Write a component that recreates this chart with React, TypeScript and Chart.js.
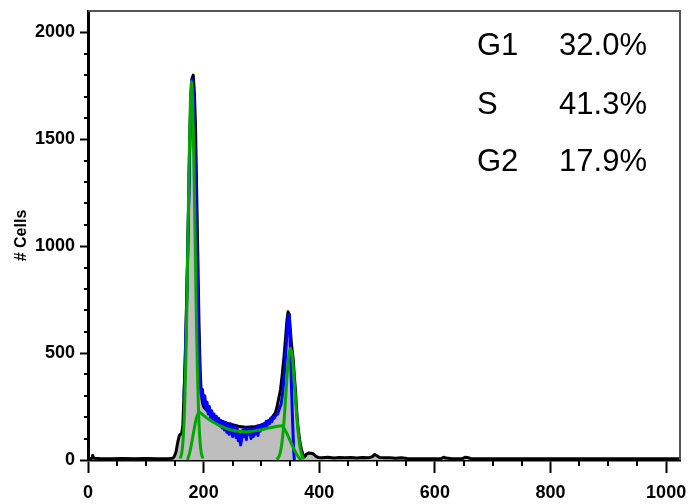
import React, { useEffect, useRef } from "react";
import { Chart, registerables } from "chart.js";

Chart.register(...registerables);

// Histogram data (channel, cell count)
const dataCh = [0, 5, 7, 8, 9, 11, 20, 40, 60, 80, 100, 120, 140, 146, 149, 152, 155, 158, 160, 162, 164, 166, 168, 170, 172, 174, 176, 178, 180, 182, 184, 186, 188, 190, 192, 194, 196, 198, 200, 203, 206, 210, 215, 220, 225, 230, 235, 240, 245, 250, 255, 260, 265, 270, 275, 280, 285, 290, 295, 300, 305, 310, 315, 320, 324, 327, 330, 333, 336, 339, 342, 344, 346, 348, 350, 352, 355, 357, 359, 361, 363, 366, 369, 372, 375, 378, 382, 386, 390, 394, 398, 405, 415, 425, 435, 445, 455, 465, 475, 485, 492, 496, 500, 504, 512, 522, 532, 542, 552, 570, 590, 610, 615, 619, 630, 648, 652, 656, 662, 680, 720, 760, 800, 850, 900, 950, 1000, 1024];
const dataCounts = [7, 7, 9, 22, 14, 8, 7, 6, 7, 6, 7, 6, 7, 8, 15, 35, 80, 115, 120, 125, 160, 300, 460, 680, 920, 1200, 1500, 1700, 1785, 1800, 1720, 1560, 1250, 950, 640, 420, 310, 270, 250, 240, 230, 222, 210, 198, 190, 183, 177, 172, 168, 165, 162, 158, 156, 154, 153, 154, 155, 157, 160, 163, 168, 176, 188, 205, 220, 249, 290, 330, 400, 483, 580, 650, 693, 680, 610, 540, 470, 390, 320, 230, 160, 95, 50, 25, 15, 28, 33, 32, 28, 18, 12, 10, 13, 9, 12, 10, 12, 9, 12, 10, 16, 26, 20, 12, 10, 11, 8, 10, 7, 6, 6, 6, 13, 9, 6, 7, 13, 12, 7, 6, 6, 6, 6, 6, 6, 6, 6, 6];

// Blue curve
const blueCh = [166, 168, 170, 172, 174, 176, 178, 180, 182, 184, 186, 188, 190, 192, 194, 196, 198, 200, 202, 204, 206, 208, 210, 212, 214, 216, 218, 220, 222, 224, 226, 228, 230, 232, 234, 236, 238, 240, 242, 244, 246, 248, 250, 252, 254, 256, 258, 260, 262, 264, 266, 268, 270, 272, 274, 276, 278, 280, 282, 284, 286, 288, 290, 292, 294, 296, 298, 300, 302, 304, 306, 308, 310, 312, 314, 316, 318, 320, 322, 325, 328, 331, 334, 337, 340, 342, 344, 346, 348, 350, 352, 354, 356, 357];
const blueCounts = [290, 450, 660, 900, 1180, 1480, 1690, 1780, 1740, 1580, 1350, 1050, 760, 520, 360, 300, 330, 260, 300, 240, 270, 215, 250, 200, 230, 190, 215, 175, 205, 170, 195, 160, 185, 150, 180, 140, 175, 130, 165, 120, 170, 140, 110, 160, 130, 105, 150, 90, 120, 70, 100, 140, 110, 150, 95, 140, 120, 150, 100, 145, 110, 150, 120, 155, 115, 160, 135, 165, 145, 170, 150, 180, 160, 185, 170, 195, 180, 200, 195, 210, 215, 240, 260, 320, 420, 500, 590, 670, 680, 520, 340, 170, 30, 0];

// Green model components
const g1Ch = [159, 161, 163, 165, 167, 169, 171, 173, 175, 177, 179, 181, 183, 185, 187, 189, 191, 193, 195, 197, 199];
const g1Counts = [7, 19, 50, 116, 238, 438, 723, 1068, 1410, 1665, 1770, 1670, 1420, 1080, 735, 450, 245, 120, 52, 20, 7];
const sCh = [172, 175, 178, 181, 184, 187, 190, 193, 197, 202, 210, 220, 230, 240, 250, 260, 270, 280, 290, 300, 310, 320, 328, 334, 338, 342, 346, 350, 354, 358, 362, 366, 369];
const sCounts = [0, 25, 60, 105, 150, 190, 215, 222, 215, 204, 188, 172, 158, 147, 139, 134, 132, 133, 137, 142, 148, 153, 158, 160, 152, 135, 112, 88, 64, 42, 22, 8, 0];
const g2Ch = [326, 329, 332, 335, 338, 341, 344, 347, 350, 353, 356, 359, 362, 365, 368, 371, 374];
const g2Counts = [3, 10, 29, 71, 145, 255, 380, 483, 523, 490, 400, 285, 175, 95, 42, 15, 4];

// Axis ticks
const xTicks = [0, 200, 400, 600, 800, 1000];
const xMinorTicks = [50, 100, 150, 250, 300, 350, 450, 500, 550, 650, 700, 750, 850, 900, 950];
const yTicks = [0, 500, 1000, 1500, 2000];
const yMinorTicks = [100, 200, 300, 400, 600, 700, 800, 900, 1100, 1200, 1300, 1400, 1600, 1700, 1800, 1900];

// Phase summary
const phaseLabels = ["G1", "S", "G2"];
const phaseValues = ["32.0%", "41.3%", "17.9%"];

const GREEN = "#00A800";
const BLUE = "#0000FF";
const FONT = "'Liberation Sans', Arial, sans-serif";

function zip(xs: number[], ys: number[]) {
  return xs.map((x, i) => ({ x, y: ys[i] }));
}

const extrasPlugin = {
  id: "extras",
  afterDraw(chart: any) {
    const { ctx, chartArea } = chart;
    const xs = chart.scales.x;
    const ys = chart.scales.y;
    ctx.save();
    // frame top/right
    ctx.strokeStyle = "#555";
    ctx.lineWidth = 2;
    ctx.beginPath();
    ctx.moveTo(chartArea.left, chartArea.top);
    ctx.lineTo(chartArea.right, chartArea.top);
    ctx.lineTo(chartArea.right, chartArea.bottom);
    ctx.stroke();
    // minor ticks
    ctx.strokeStyle = "#000";
    ctx.lineWidth = 2;
    ctx.beginPath();
    xMinorTicks.forEach((v) => {
      const px = Math.round(xs.getPixelForValue(v));
      ctx.moveTo(px, chartArea.bottom);
      ctx.lineTo(px, chartArea.bottom + 6);
    });
    yMinorTicks.forEach((v) => {
      const py = Math.round(ys.getPixelForValue(v));
      ctx.moveTo(chartArea.left - 4, py);
      ctx.lineTo(chartArea.left, py);
    });
    ctx.stroke();
    // phase text
    ctx.fillStyle = "#000";
    ctx.font = `31px ${FONT}`;
    ctx.textBaseline = "middle";
    const rows = [46, 105, 162];
    phaseLabels.forEach((lab, i) => {
      ctx.textAlign = "left";
      ctx.fillText(lab, 477, rows[i]);
      ctx.textAlign = "right";
      ctx.fillText(phaseValues[i], 647, rows[i]);
    });
    ctx.restore();
  },
};

export default function App() {
  const ref = useRef<HTMLCanvasElement | null>(null);
  useEffect(() => {
    if (!ref.current) return;
    const tickFont = { family: FONT, size: 18, weight: "bold" as const };
    const chart = new Chart(ref.current, {
      type: "line",
      data: {
        datasets: [
          { label: "G1", data: zip(g1Ch, g1Counts), borderColor: GREEN, borderWidth: 3, fill: false, order: 1, cubicInterpolationMode: "monotone" },
          { label: "S", data: zip(sCh, sCounts), borderColor: GREEN, borderWidth: 3, fill: false, order: 1, cubicInterpolationMode: "monotone" },
          { label: "G2", data: zip(g2Ch, g2Counts), borderColor: GREEN, borderWidth: 3, fill: false, order: 1, cubicInterpolationMode: "monotone" },
          { label: "Model", data: zip(blueCh, blueCounts), borderColor: BLUE, borderWidth: 3, fill: false, order: 2 },
          { label: "Data", data: zip(dataCh, dataCounts), borderColor: "#000", borderWidth: 3, fill: false, order: 3 },
          { label: "Fill", data: zip(dataCh, dataCounts), borderColor: "rgba(0,0,0,0)", borderWidth: 0, backgroundColor: "#BEBEBE", fill: "origin", order: 4 },
        ] as any,
      },
      options: {
        animation: false,
        responsive: false,
        maintainAspectRatio: false,
        layout: { padding: { top: 11, right: 12, left: 0, bottom: 0 } },
        elements: { point: { radius: 0 }, line: { tension: 0, borderJoinStyle: "round" } },
        plugins: { legend: { display: false }, tooltip: { enabled: false }, title: { display: false } },
        scales: {
          x: {
            type: "linear",
            min: 0,
            max: 1024,
            afterBuildTicks: (s: any) => { s.ticks = xTicks.map((v) => ({ value: v })); },
            afterFit: (s: any) => { s.height = 44; s.paddingLeft = 0; s.paddingRight = 0; },
            grid: { drawOnChartArea: false, tickLength: 13, tickColor: "#000", tickWidth: 2 },
            border: { color: "#000", width: 2.5 },
            ticks: { font: tickFont, color: "#000", padding: 9, maxRotation: 0, autoSkip: false, callback: (v: any) => String(v) },
          },
          y: {
            type: "linear",
            min: 0,
            max: 2100,
            afterBuildTicks: (s: any) => { s.ticks = yTicks.map((v) => ({ value: v })); },
            afterFit: (s: any) => { s.width = 88; s.paddingTop = 0; s.paddingBottom = 0; },
            grid: { drawOnChartArea: false, tickLength: 8, tickColor: "#000", tickWidth: 2 },
            border: { color: "#000", width: 3 },
            ticks: { font: tickFont, color: "#000", padding: 5, autoSkip: false, callback: (v: any) => String(v) },
            title: { display: true, text: "# Cells", color: "#000", font: { family: FONT, size: 16, weight: "bold" }, padding: { top: 12, bottom: 0 } },
          },
        },
      } as any,
      plugins: [extrasPlugin],
    });
    return () => chart.destroy();
  }, []);
  return (
    <div style={{ position: "absolute", left: 0, top: 0, width: 692, height: 504, background: "#fff" }}>
      <canvas ref={ref} width={692} height={504} style={{ display: "block" }} />
    </div>
  );
}
